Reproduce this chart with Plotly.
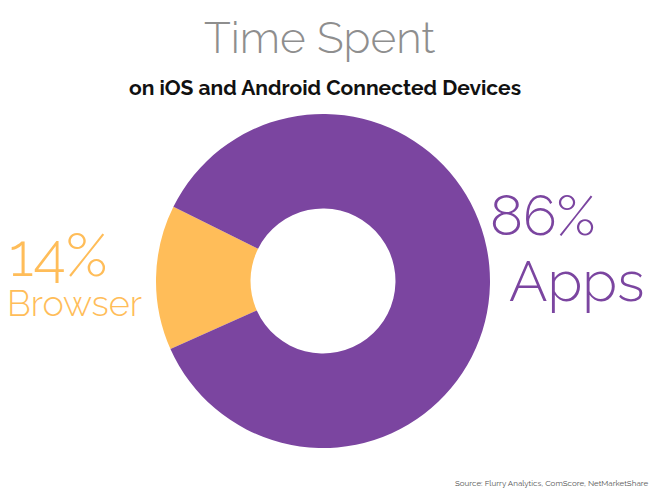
import plotly.graph_objects as go

labels = ["Browser", "Apps"]
values = [14, 86]
colors = ["#FFBD59", "#7B45A0"]
pct_text = ["14%", "86%"]

W, H = 655, 500

def px(x):
    return x / W

def py(y):
    return 1 - y / H

cx, cy, r = 323, 281, 167

fig = go.Figure(go.Pie(
    labels=labels, values=values, hole=0.434, sort=False,
    direction="clockwise", rotation=246,
    marker=dict(colors=colors, line=dict(width=0)),
    textinfo="none", hoverinfo="label+percent", showlegend=False,
    domain=dict(x=[px(cx - r), px(cx + r)], y=[py(cy + r), py(cy - r)]),
))

light = "Raleway, Lato, 'Open Sans', sans-serif"
ann = [
    dict(text="Time Spent", x=px(319), y=py(38), font=dict(size=44, color="#8E8E8E", family=light, weight=300), xanchor="center", yanchor="middle"),
    dict(text="on iOS and Android Connected Devices", x=px(325), y=py(88), font=dict(size=21, color="#111111", family=light, weight=700), xanchor="center", yanchor="middle"),
    dict(text=pct_text[0], x=px(7), y=py(255), font=dict(size=60, color=colors[0], family=light, weight=300), xanchor="left", yanchor="middle"),
    dict(text=labels[0], x=px(5), y=py(303), font=dict(size=36, color=colors[0], family=light, weight=300), xanchor="left", yanchor="middle"),
    dict(text=pct_text[1], x=px(488), y=py(215), font=dict(size=56, color=colors[1], family=light, weight=300), xanchor="left", yanchor="middle"),
    dict(text=labels[1], x=px(507), y=py(280), font=dict(size=57, color=colors[1], family=light, weight=300), xanchor="left", yanchor="middle"),
    dict(text="Source: Flurry Analytics, ComScore, NetMarketShare", x=px(650), y=py(483), font=dict(size=8, color="#555555", family=light), xanchor="right", yanchor="middle"),
]
for a in ann:
    a.update(xref="paper", yref="paper", showarrow=False)

fig.update_layout(
    width=W, height=H, margin=dict(l=0, r=0, t=0, b=0),
    paper_bgcolor="white", plot_bgcolor="white",
    annotations=ann,
)

fig.write_html("out.html", config={"displayModeBar": False},
               post_script="document.body.style.margin='0';")
